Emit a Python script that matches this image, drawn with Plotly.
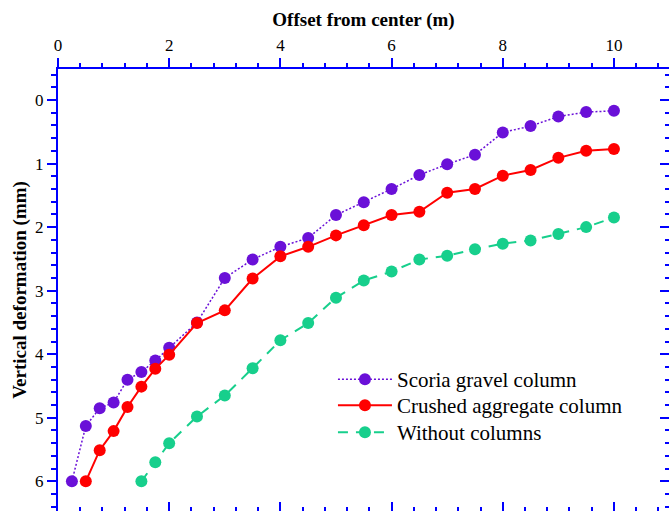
import plotly.graph_objects as go

# Offset from the column centre (m)
offset_scoria = [0.25, 0.5, 0.75, 1.0, 1.25, 1.5, 1.75, 2.0, 2.5, 3.0, 3.5, 4.0, 4.5,
                 5.0, 5.5, 6.0, 6.5, 7.0, 7.5, 8.0, 8.5, 9.0, 9.5, 10.0]
settle_scoria = [6.00, 5.13, 4.85, 4.76, 4.40, 4.28, 4.10, 3.90, 3.50, 2.80, 2.51, 2.31, 2.17,
                 1.81, 1.61, 1.40, 1.18, 1.01, 0.86, 0.51, 0.41, 0.26, 0.19, 0.17]

offset_crushed = [0.5, 0.75, 1.0, 1.25, 1.5, 1.75, 2.0, 2.5, 3.0, 3.5, 4.0, 4.5,
                  5.0, 5.5, 6.0, 6.5, 7.0, 7.5, 8.0, 8.5, 9.0, 9.5, 10.0]
settle_crushed = [6.00, 5.51, 5.21, 4.83, 4.51, 4.23, 4.01, 3.51, 3.31, 2.81, 2.46, 2.31,
                  2.13, 1.97, 1.81, 1.76, 1.46, 1.40, 1.19, 1.10, 0.91, 0.80, 0.77]

offset_none = [1.5, 1.75, 2.0, 2.5, 3.0, 3.5, 4.0, 4.5, 5.0, 5.5, 6.0, 6.5, 7.0, 7.5,
               8.0, 8.5, 9.0, 9.5, 10.0]
settle_none = [6.00, 5.70, 5.40, 4.98, 4.65, 4.22, 3.78, 3.51, 3.11, 2.84, 2.70, 2.51, 2.45,
               2.35, 2.26, 2.21, 2.11, 2.00, 1.85]

series_names = ["Scoria gravel column", "Crushed aggregate column", "Without columns"]

PURPLE = "#6A10D8"
RED = "#FF0000"
GREEN = "#17CF8C"
BLUE = "#0000FF"
SERIF = "Liberation Serif, Times New Roman, serif"

X_RANGE = [0, 10.99]
Y_RANGE = [6.467, -0.488]

fig = go.Figure()

fig.add_trace(go.Scatter(
    x=offset_scoria, y=settle_scoria, name=series_names[0], mode="lines+markers",
    line=dict(color=PURPLE, width=1.5, dash="2px,2px"),
    marker=dict(color=PURPLE, size=12, line=dict(width=0)),
    legend="legend",
))
fig.add_trace(go.Scatter(
    x=offset_crushed, y=settle_crushed, name=series_names[1], mode="lines+markers",
    line=dict(color=RED, width=2),
    marker=dict(color=RED, size=12, line=dict(width=0)),
    legend="legend2",
))
fig.add_trace(go.Scatter(
    x=offset_none, y=settle_none, name=series_names[2], mode="lines+markers",
    line=dict(color=GREEN, width=2, dash="10px,8px"),
    marker=dict(color=GREEN, size=12, line=dict(width=0)),
    legend="legend3",
))
# empty trace that anchors the mirrored bottom/right tick axes
fig.add_trace(go.Scatter(x=[], y=[], xaxis="x2", yaxis="y2", showlegend=False,
                         hoverinfo="skip"))

major_x = dict(tickmode="linear", tick0=0, dtick=2)
major_y = dict(tickmode="linear", tick0=0, dtick=1)


def legend_box(top):
    # one legend per series so the row spacing can be set directly
    return dict(
        x=0.450, y=top, xanchor="left", yanchor="top",
        bgcolor="rgba(0,0,0,0)", borderwidth=0, itemwidth=54,
        font=dict(size=21, family=SERIF, color="black"),
    )


fig.update_layout(
    width=669, height=511,
    margin=dict(l=58, r=0, t=69, b=0),
    paper_bgcolor="white", plot_bgcolor="white",
    font=dict(family=SERIF, color="black"),
    xaxis=dict(
        range=X_RANGE, side="top", **major_x,
        showgrid=False, zeroline=False,
        showline=True, linecolor=BLUE, linewidth=2,
        ticks="outside", ticklen=9, tickwidth=2, tickcolor=BLUE,
        minor=dict(dtick=0.4, tick0=0, ticks="outside", ticklen=4, tickwidth=2,
                   tickcolor=BLUE, showgrid=False),
        tickfont=dict(size=17, family=SERIF, color="black"),
        title=dict(text="<b>Offset from center (m)</b>", standoff=5,
                   font=dict(size=19, family=SERIF, color="black")),
    ),
    yaxis=dict(
        range=Y_RANGE, **major_y,
        showgrid=False, zeroline=False,
        showline=True, linecolor=BLUE, linewidth=2,
        ticks="outside", ticklen=9, tickwidth=2, tickcolor=BLUE,
        minor=dict(dtick=0.2, tick0=0, ticks="outside", ticklen=5, tickwidth=2,
                   tickcolor=BLUE, showgrid=False),
        tickfont=dict(size=17, family=SERIF, color="black"),
        title=dict(text="<b>Vertical deformation (mm)</b>", standoff=3,
                   font=dict(size=19, family=SERIF, color="black")),
    ),
    xaxis2=dict(
        range=X_RANGE, overlaying="x", side="bottom", **major_x,
        showgrid=False, zeroline=False, showline=False, showticklabels=False,
        ticks="inside", ticklen=9, tickwidth=2, tickcolor=BLUE,
        minor=dict(dtick=0.4, tick0=0, ticks="inside", ticklen=4, tickwidth=2,
                   tickcolor=BLUE, showgrid=False),
    ),
    yaxis2=dict(
        range=Y_RANGE, overlaying="y", side="right", **major_y,
        showgrid=False, zeroline=False, showline=False, showticklabels=False,
        ticks="inside", ticklen=9, tickwidth=2, tickcolor=BLUE,
        minor=dict(dtick=0.2, tick0=0, ticks="inside", ticklen=4, tickwidth=2,
                   tickcolor=BLUE, showgrid=False),
    ),
    legend=legend_box(0.3439),
    legend2=legend_box(0.2851),
    legend3=legend_box(0.2240),
    showlegend=True,
)

fig.write_html("out.html")
